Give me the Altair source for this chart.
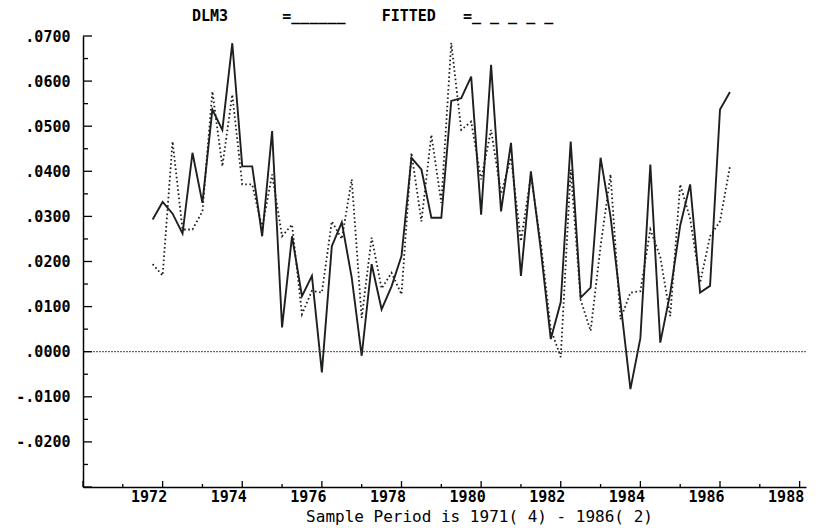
import altair as alt
import pandas as pd

# ---- data (quarterly, 1971Q4 .. 1986Q2) ----
start_year = 1971
start_quarter = 4

dlm3 = [0.0293, 0.0332, 0.0306, 0.0262, 0.0441, 0.0330, 0.0537, 0.0492, 0.0684, 0.0411,
        0.0411, 0.0256, 0.0489, 0.0054, 0.0256, 0.0123, 0.0168, -0.0046, 0.0234, 0.0287,
        0.0164, -0.0009, 0.0194, 0.0094, 0.0145, 0.0212, 0.0430, 0.0404, 0.0297, 0.0297,
        0.0556, 0.0562, 0.0610, 0.0304, 0.0636, 0.0311, 0.0463, 0.0168, 0.0400, 0.0225,
        0.0028, 0.0110, 0.0466, 0.0120, 0.0142, 0.0430, 0.0300, 0.0110, -0.0083, 0.0030,
        0.0415, 0.0020, 0.0130, 0.0280, 0.0371, 0.0131, 0.0146, 0.0537, 0.0576]

fitted = [0.0194, 0.0169, 0.0466, 0.0271, 0.0271, 0.0311, 0.0577, 0.0411, 0.0570, 0.0371,
          0.0371, 0.0275, 0.0393, 0.0256, 0.0282, 0.0083, 0.0135, 0.0131, 0.0289, 0.0250,
          0.0382, 0.0075, 0.0253, 0.0140, 0.0175, 0.0127, 0.0441, 0.0289, 0.0481, 0.0330,
          0.0685, 0.0492, 0.0510, 0.0382, 0.0492, 0.0350, 0.0430, 0.0245, 0.0390, 0.0240,
          0.0050, -0.0012, 0.0404, 0.0115, 0.0046, 0.0234, 0.0393, 0.0072, 0.0131, 0.0134,
          0.0271, 0.0210, 0.0079, 0.0371, 0.0295, 0.0153, 0.0256, 0.0289, 0.0411]

x_label_years = [1972, 1974, 1976, 1978, 1980, 1982, 1984, 1986, 1988]
x_major_years = [1970, 1972, 1974, 1976, 1978, 1980, 1982, 1984, 1986, 1988]
x_minor_years = [1971, 1973, 1975, 1977, 1979, 1981, 1983, 1985, 1987]
y_label_values = [-0.02, -0.01, 0.0, 0.01, 0.02, 0.03, 0.04, 0.05, 0.06, 0.07]
y_major_values = [-0.03, -0.02, -0.01, 0.0, 0.01, 0.02, 0.03, 0.04, 0.05, 0.06, 0.07]
y_minor_values = [-0.025, -0.015, -0.005, 0.005, 0.015, 0.025, 0.035, 0.045, 0.055, 0.065]
zero_value = [0.0]

NB = "\u00a0"
title_text = ("DLM3" + NB * 6 + "=" + "_" * 6 + NB * 4 + "FITTED"
              + NB * 3 + "=" + "_" + NB + "_" + NB + "_" + NB + "_" + NB + "_")
x_title = "Sample Period is 1971( 4) - 1986( 2)"

# ---- build table ----
t, periods = [], []
yy, qq = start_year, start_quarter
for _ in range(len(dlm3)):
    t.append(yy + (qq - 1) / 4)
    periods.append(f"{yy}({qq})")
    qq += 1
    if qq > 4:
        qq = 1
        yy += 1
df = pd.DataFrame({"t": t, "period": periods, "DLM3": dlm3, "FITTED": fitted})

W, H = 723, 451
xscale = alt.Scale(domain=[1970, 1988.16], nice=False, zero=False)
yscale = alt.Scale(domain=[-0.03, 0.07], nice=False, zero=False)
MONO = "DejaVu Sans Mono"

label_expr = ("datum.value < 0 ? '-' + replace(format(-datum.value, '.4f'), '0.', '.')"
              " : replace(format(datum.value, '.4f'), '0.', '.')")

x_axis = alt.Axis(values=x_label_years, format="d", ticks=False, grid=False,
                  domain=True, domainColor="black", domainWidth=1.5,
                  labelFont=MONO, labelFontWeight="bold", labelFontSize=15,
                  labelColor="black", labelOffset=-14, labelPadding=2,
                  labelFlush=False, labelOverlap=False,
                  title=x_title, titleFont=MONO, titleFontWeight="normal",
                  titleFontSize=16, titleColor="black", titleX=396, titleY=34,
                  titleBaseline="alphabetic")
y_axis = alt.Axis(values=y_label_values, labelExpr=label_expr, ticks=False, grid=False,
                  domain=True, domainColor="black", domainWidth=1.5,
                  labelFont=MONO, labelFontWeight="bold", labelFontSize=15,
                  labelColor="black", labelPadding=13, labelOverlap=False,
                  labelFlush=False, title=None)


def X(field):
    return alt.X(field, scale=xscale, axis=x_axis)


def Y(field):
    return alt.Y(field, scale=yscale, axis=y_axis)


act_line = alt.Chart(df).mark_line(color="#1c211c", strokeWidth=1.9).encode(
    x=X("t:Q"), y=Y("DLM3:Q"))

fit_line = alt.Chart(df).mark_line(color="#1e1e1e", strokeWidth=1.8,
                                   strokeDash=[1.6, 2.6]).encode(
    x=X("t:Q"), y=Y("FITTED:Q"))

zero_line = alt.Chart(pd.DataFrame({"z": zero_value})).mark_rule(
    color="#444", strokeWidth=1, strokeDash=[2, 1]).encode(y=Y("z:Q"))

ymaj = alt.Chart(pd.DataFrame({"v": y_major_values})).mark_rule(
    color="black", strokeWidth=1.3).encode(
    y=Y("v:Q"), x=alt.value(0), x2=alt.value(9))
ymin = alt.Chart(pd.DataFrame({"v": y_minor_values})).mark_rule(
    color="black", strokeWidth=1.3).encode(
    y=Y("v:Q"), x=alt.value(0), x2=alt.value(5))

xmaj = alt.Chart(pd.DataFrame({"yr": x_major_years})).mark_rule(
    color="black", strokeWidth=1.3).encode(
    x=X("yr:Q"), y=alt.value(H), y2=alt.value(H - 6))
xmin = alt.Chart(pd.DataFrame({"yr": x_minor_years})).mark_rule(
    color="black", strokeWidth=1.3).encode(
    x=X("yr:Q"), y=alt.value(H), y2=alt.value(H - 3))

chart = alt.layer(act_line, fit_line, zero_line, ymaj, ymin, xmaj, xmin).properties(
    width=W, height=H,
    padding={"left": 75, "top": 28, "right": 2, "bottom": 38},
    autosize=alt.AutoSizeParams(type="none"),
    title=alt.TitleParams(text=title_text, anchor="start", frame="group", dx=109, dy=10,
                          font=MONO, fontWeight="bold", fontSize=15, color="black",
                          baseline="alphabetic", offset=3),
).configure_view(stroke=None)

chart.save("out.html", embed_options={"renderer": "svg", "actions": False})
